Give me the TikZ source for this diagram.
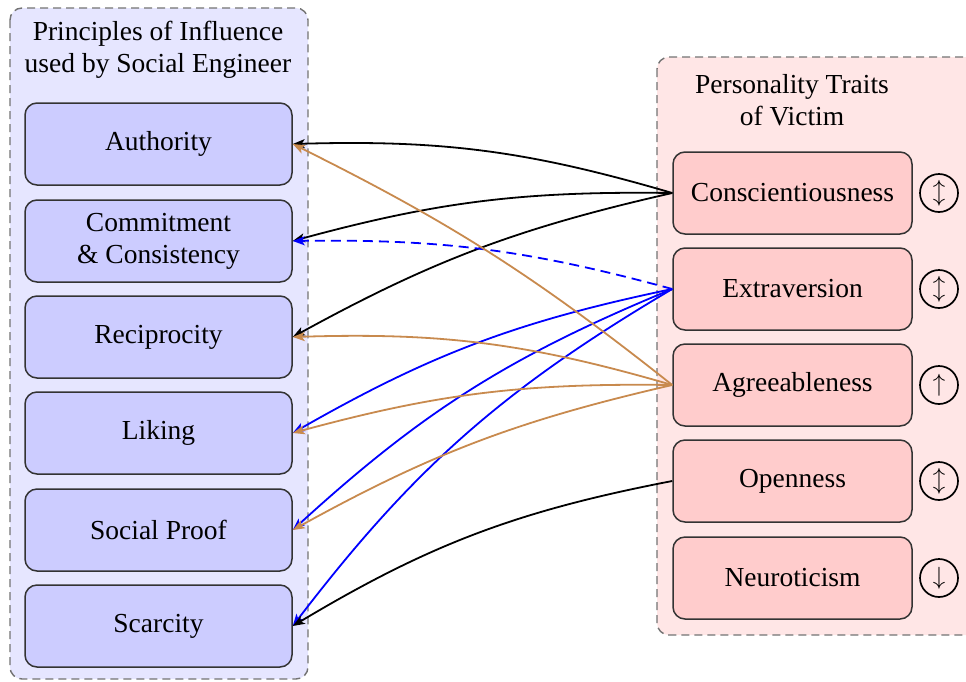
\documentclass[tikz,border=0pt]{standalone}
\usepackage{fontspec}
\setmainfont{Liberation Serif}
\usetikzlibrary{arrows.meta}
\definecolor{brn}{RGB}{200,138,78}
\definecolor{lbluefill}{RGB}{230,230,255}
\definecolor{bluebox}{RGB}{204,204,255}
\definecolor{lpinkfill}{RGB}{255,230,230}
\definecolor{pinkbox}{RGB}{255,204,204}
\tikzset{
  every node/.style={font=\fontsize{27.5}{32}\selectfont},
  container/.style={draw=black!55, line width=1.4pt, dash pattern=on 8pt off 5pt, rounded corners=12pt},
  leftbox/.style={draw=black!80, line width=1.5pt, rounded corners=12pt, fill=bluebox, minimum width=267pt, minimum height=82pt, align=center, inner sep=0pt},
  rightbox/.style={draw=black!80, line width=1.5pt, rounded corners=12pt, fill=pinkbox, minimum width=239pt, minimum height=82pt, align=center, inner sep=0pt},
  trend/.style={draw=black, line width=1.7pt, circle, minimum size=38pt, inner sep=0pt},
  conn/.style={line width=1.8pt, -{Stealth[length=12pt,width=9pt,inset=3pt]}},
  title/.style={align=center, inner sep=0pt}
}
\begin{document}
\begin{tikzpicture}[x=1pt,y=-1pt]
\useasboundingbox (0,0) rectangle (966,681);
\clip (0,0) rectangle (966,681);
% containers
\fill[lbluefill, rounded corners=12pt] (10,8) rectangle (308,679);
\draw[container] (10,8) rectangle (308,679);
\fill[lpinkfill, rounded corners=12pt] (657,57) rectangle (1000,635);
\draw[container] (657,57) rectangle (1000,635);
% titles
\node[title] (lt) at (158,50) {Principles of Influence\\used by Social Engineer};
\node[title] (rt) at (792,100) {Personality Traits\\of Victim};
% left boxes
\node[leftbox] (auth) at (158.5,144) {Authority};
\node[leftbox] (comm) at (158.5,241) {Commitment\\\& Consistency};
\node[leftbox] (reci) at (158.5,337) {Reciprocity};
\node[leftbox] (liki) at (158.5,433) {Liking};
\node[leftbox] (soci) at (158.5,530) {Social Proof};
\node[leftbox] (scar) at (158.5,626) {Scarcity};
% right boxes
\node[rightbox] (cons) at (792.5,193) {Conscientiousness};
\node[rightbox] (extr) at (792.5,289) {Extraversion};
\node[rightbox] (agre) at (792.5,385) {Agreeableness};
\node[rightbox] (open) at (792.5,481) {Openness};
\node[rightbox] (neur) at (792.5,578) {Neuroticism};
% trend circles
\node[trend] (c1) at (939,193) {$\updownarrow$};
\node[trend] (c2) at (939,289) {$\updownarrow$};
\node[trend] (c3) at (939,385) {$\uparrow$};
\node[trend] (c4) at (939,481) {$\updownarrow$};
\node[trend] (c5) at (939,578) {$\downarrow$};
% connectors
\draw[conn, black] (cons.west) to[bend right=9] (auth.east);
\draw[conn, black] (cons.west) to[bend right=8] (comm.east);
\draw[conn, black] (cons.west) to[bend right=8] (reci.east);
\draw[conn, blue, dash pattern=on 10pt off 6pt] (extr.west) to[bend right=8] (comm.east);
\draw[conn, blue] (extr.west) to[bend right=9] (liki.east);
\draw[conn, blue] (extr.west) to[bend right=10] (soci.east);
\draw[conn, blue] (extr.west) to[bend right=11] (scar.east);
\draw[conn, brn] (agre.west) to[bend right=6] (auth.east);
\draw[conn, brn] (agre.west) to[bend right=9] (reci.east);
\draw[conn, brn] (agre.west) to[bend right=8] (liki.east);
\draw[conn, brn] (agre.west) to[bend right=8] (soci.east);
\draw[conn, black] (open.west) to[bend right=10] (scar.east);
\end{tikzpicture}
\end{document}
